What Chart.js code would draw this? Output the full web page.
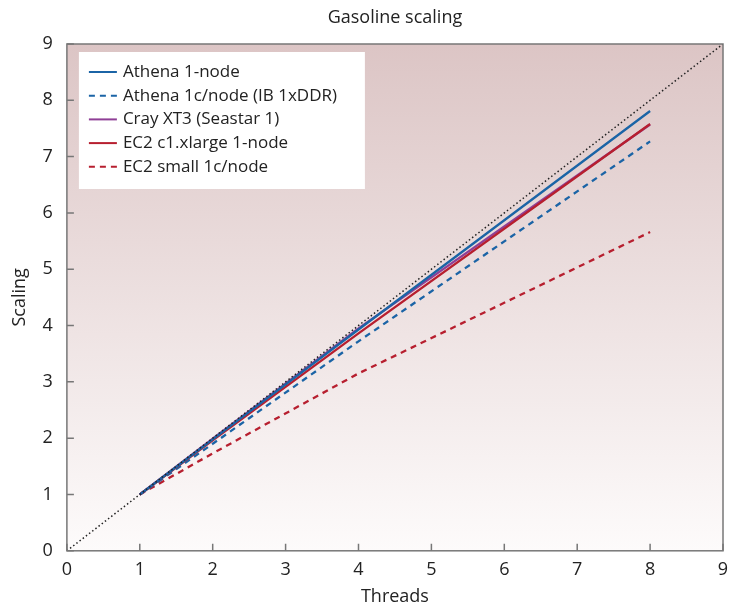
<!DOCTYPE html>
<html lang="en">
<head>
  <meta charset="UTF-8">
  <title>Gasoline scaling</title>
  <script src="https://cdn.jsdelivr.net/npm/chart.js"></script>
  <style>
    body { margin: 0; background: #fff; }
    #wrap { width: 737px; height: 610px; }
  </style>
</head>
<body>
  <div id="wrap"><canvas id="scaling"></canvas></div>
  <script>
    // thread counts measured
    const threads = [1, 2, 4, 8];
    const athena1Node = [1, 1.98, 3.93, 7.81];
    const athena1c = [1, 1.90, 3.72, 7.27];
    const crayXT3 = [1, 1.99, 3.95, 7.57];
    const ec2Xlarge = [1, 1.96, 3.86, 7.58];
    const ec2Small = [1, 1.73, 3.15, 5.66];
    const idealX = [0, 9];
    const axisTicks = [0, 1, 2, 3, 4, 5, 6, 7, 8, 9];
    const chartTitle = 'Gasoline scaling';

    const font = "'Open Sans', 'Noto Sans', sans-serif";

    function pts(xs, ys) {
      return xs.map((x, i) => ({ x: x, y: ys[i] }));
    }

    // order: lower is drawn on top
    const datasets = [
      { label: 'Athena 1-node', data: pts(threads, athena1Node), borderColor: '#1b64a6', borderDash: [], order: 2 },
      { label: 'Athena 1c/node (IB 1xDDR)', data: pts(threads, athena1c), borderColor: '#1b64a6', borderDash: [6, 5], order: 5 },
      { label: 'Cray XT3 (Seastar 1)', data: pts(threads, crayXT3), borderColor: '#8f3f96', borderDash: [], order: 4 },
      { label: 'EC2 c1.xlarge 1-node', data: pts(threads, ec2Xlarge), borderColor: '#b71f2f', borderDash: [], order: 3 },
      { label: 'EC2 small 1c/node', data: pts(threads, ec2Small), borderColor: '#b71f2f', borderDash: [6, 5], order: 6 },
      { label: 'ideal', data: pts(idealX, idealX), borderColor: '#222', borderDash: [1.5, 2.5], borderWidth: 1.5, inLegend: false, order: 1 }
    ].map(d => Object.assign({ borderWidth: 2.3, pointRadius: 0, fill: false, tension: 0, inLegend: true }, d));

    // pink-to-white background inside the plot, frame, inward ticks, legend, title
    const plotDecor = {
      id: 'plotDecor',
      beforeDatasetsDraw(chart) {
        const { ctx, chartArea: a } = chart;
        const g = ctx.createLinearGradient(0, a.top, 0, a.bottom);
        g.addColorStop(0, '#dcc5c5');
        g.addColorStop(1, '#fdfbfb');
        ctx.save();
        ctx.fillStyle = g;
        ctx.fillRect(a.left, a.top, a.right - a.left, a.bottom - a.top);
        ctx.restore();
      },
      afterDatasetsDraw(chart) {
        const { ctx, chartArea: a, scales } = chart;
        ctx.save();
        ctx.strokeStyle = '#777';
        ctx.lineWidth = 1.5;
        ctx.strokeRect(a.left, a.top, a.right - a.left, a.bottom - a.top);
        ctx.beginPath();
        axisTicks.forEach(v => {
          const px = scales.x.getPixelForValue(v);
          ctx.moveTo(px, a.bottom);
          ctx.lineTo(px, a.bottom - 7);
          const py = scales.y.getPixelForValue(v);
          ctx.moveTo(a.left, py);
          ctx.lineTo(a.left + 7, py);
        });
        ctx.stroke();

        // title centred over the plot
        ctx.fillStyle = '#222';
        ctx.font = '18px ' + font;
        ctx.textAlign = 'center';
        ctx.textBaseline = 'middle';
        ctx.fillText(chartTitle, (a.left + a.right) / 2, 18);

        // legend box in the upper left of the plot
        const items = chart.data.datasets.filter(d => d.inLegend);
        const bx = a.left + 12, by = a.top + 8, bw = 286, bh = 137;
        ctx.fillStyle = '#fff';
        ctx.fillRect(bx, by, bw, bh);
        ctx.font = '17px ' + font;
        ctx.textAlign = 'left';
        items.forEach((d, i) => {
          const y = by + 20 + i * 23.7;
          ctx.strokeStyle = d.borderColor;
          ctx.lineWidth = 2;
          ctx.setLineDash(d.borderDash);
          ctx.beginPath();
          ctx.moveTo(bx + 10, y);
          ctx.lineTo(bx + 38, y);
          ctx.stroke();
          ctx.setLineDash([]);
          ctx.fillStyle = '#222';
          ctx.fillText(d.label, bx + 44, y);
        });
        ctx.restore();
      }
    };

    new Chart(document.getElementById('scaling'), {
      type: 'line',
      data: { datasets: datasets },
      plugins: [plotDecor],
      options: {
        responsive: true,
        maintainAspectRatio: false,
        animation: false,
        layout: { padding: { left: 5, right: 14, top: 44, bottom: 2 } },
        plugins: {
          legend: { display: false },
          tooltip: { enabled: false },
          title: { display: false }
        },
        scales: {
          x: {
            type: 'linear',
            min: 0,
            max: 9,
            afterBuildTicks: s => { s.ticks = axisTicks.map(v => ({ value: v })); },
            grid: { display: false },
            border: { display: false },
            ticks: { color: '#222', font: { family: font, size: 18 }, padding: 0 },
            title: { display: true, text: 'Threads', color: '#222', font: { family: font, size: 18 }, padding: { top: 6, bottom: 0 } }
          },
          y: {
            type: 'linear',
            min: 0,
            max: 9,
            afterBuildTicks: s => { s.ticks = axisTicks.map(v => ({ value: v })); },
            grid: { display: false },
            border: { display: false },
            ticks: { color: '#222', font: { family: font, size: 18 }, padding: 6 },
            title: { display: true, text: 'Scaling', color: '#222', font: { family: font, size: 18 }, padding: { bottom: 6 } }
          }
        }
      }
    });
  </script>
</body>
</html>
